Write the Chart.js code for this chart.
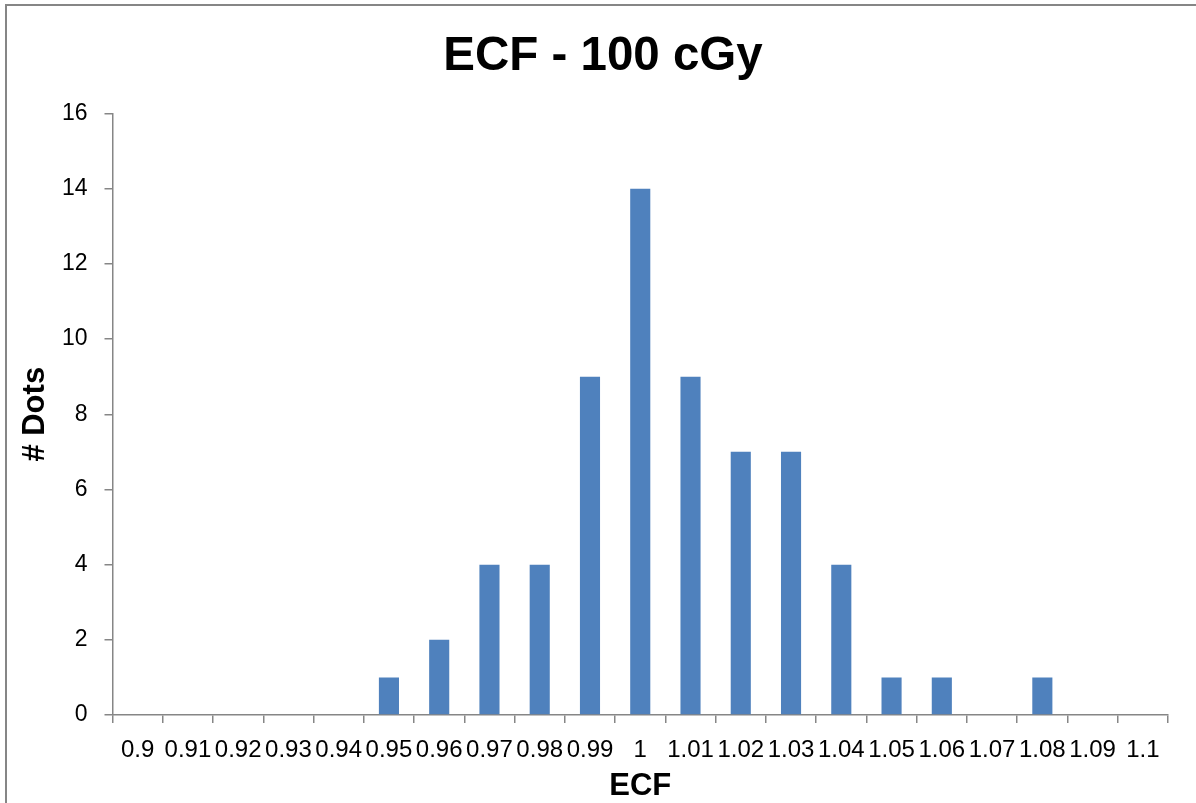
<!DOCTYPE html>
<html>
<head>
<meta charset="utf-8">
<script src="https://cdn.jsdelivr.net/npm/chart.js@4"></script>
<style>
  html, body { margin: 0; padding: 0; background: #ffffff; }
  #wrap { width: 1196px; height: 803px; position: relative; }
</style>
</head>
<body>
<div id="wrap"><canvas id="c" width="1196" height="803"></canvas></div>
<script>
// ECF histogram at 100 cGy
const categories = ['0.9', '0.91', '0.92', '0.93', '0.94', '0.95', '0.96', '0.97', '0.98', '0.99', '1',
                    '1.01', '1.02', '1.03', '1.04', '1.05', '1.06', '1.07', '1.08', '1.09', '1.1'];
const dotCounts = [0, 0, 0, 0, 0, 1, 2, 4, 4, 9, 14, 9, 7, 7, 4, 1, 1, 0, 1, 0, 0];
const yTicks = [0, 2, 4, 6, 8, 10, 12, 14, 16];
const chartTitle = 'ECF - 100 cGy';

const AXIS_GREY = '#868686';
const FONT = '"Liberation Sans", Arial, sans-serif';

// white background plus the outer frame (left and top edges visible)
const framePlugin = {
  id: 'frame',
  beforeDraw(chart) {
    const ctx = chart.ctx;
    ctx.save();
    ctx.fillStyle = '#ffffff';
    ctx.fillRect(0, 0, chart.width, chart.height);
    ctx.strokeStyle = AXIS_GREY;
    ctx.lineWidth = 2;
    ctx.strokeRect(6, 5, chart.width + 20, chart.height + 20);
    ctx.restore();
  }
};

// main heading, centred on the whole frame rather than the plot area
const headingPlugin = {
  id: 'heading',
  afterDraw(chart) {
    const ctx = chart.ctx;
    ctx.save();
    ctx.fillStyle = '#000000';
    ctx.font = 'bold 47.5px ' + FONT;
    ctx.textAlign = 'center';
    ctx.textBaseline = 'alphabetic';
    ctx.fillText(chartTitle, 603, 70);
    ctx.restore();
  }
};

new Chart(document.getElementById('c'), {
  type: 'bar',
  data: {
    labels: categories,
    datasets: [{
      label: '# Dots',
      data: dotCounts,
      backgroundColor: '#4F81BD',
      borderWidth: 0,
      categoryPercentage: 1.0,
      barPercentage: 0.4
    }]
  },
  options: {
    responsive: false,
    animation: false,
    layout: { padding: { left: 0, top: 113.5, right: 28, bottom: 0 } },
    plugins: {
      legend: { display: false },
      tooltip: { enabled: false },
      title: { display: false }
    },
    scales: {
      x: {
        offset: true,
        border: { display: true, color: AXIS_GREY, width: 1.5 },
        grid: { display: true, drawOnChartArea: false, offset: true, color: AXIS_GREY, lineWidth: 1.5, tickLength: 8 },
        ticks: {
          color: '#000000',
          font: { family: FONT, size: 24 },
          autoSkip: false,
          maxRotation: 0,
          minRotation: 0,
          padding: 13
        },
        title: {
          display: true,
          text: 'ECF',
          color: '#000000',
          font: { family: FONT, size: 31, weight: 'bold' },
          padding: { top: 0, bottom: -2 }
        },
        afterFit(scale) { scale.height = 88; }
      },
      y: {
        min: 0,
        max: 16,
        border: { display: true, color: AXIS_GREY, width: 1.5 },
        grid: { display: true, drawOnChartArea: false, color: AXIS_GREY, lineWidth: 1.5, tickLength: 8 },
        afterBuildTicks(scale) { scale.ticks = yTicks.map(v => ({ value: v })); },
        ticks: {
          color: '#000000',
          font: { family: FONT, size: 23 },
          padding: 17
        },
        title: {
          display: true,
          text: '# Dots',
          color: '#000000',
          font: { family: FONT, size: 31, weight: 'bold' },
          padding: { top: 17, bottom: 0 }
        },
        afterFit(scale) { scale.width = 112.5; }
      }
    }
  },
  plugins: [framePlugin, headingPlugin]
});
</script>
</body>
</html>
